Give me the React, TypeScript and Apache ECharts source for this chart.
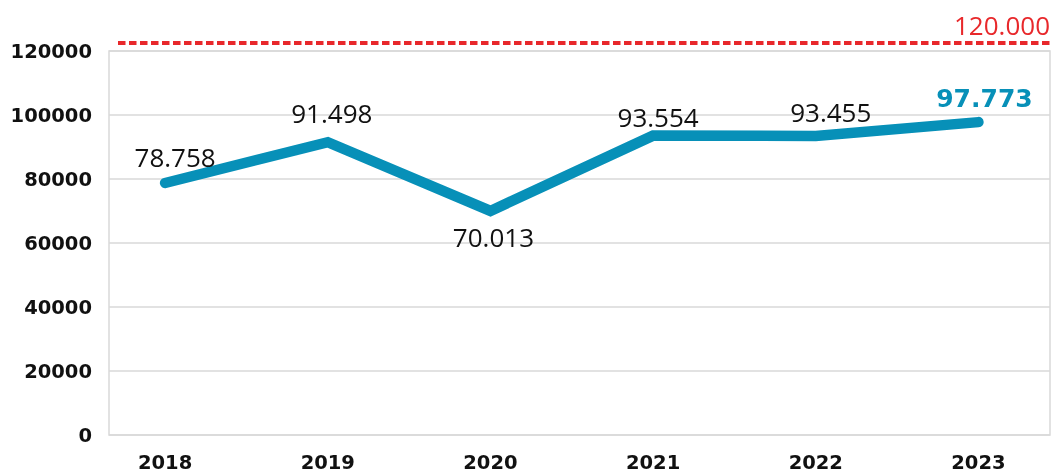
import React, { useEffect, useRef } from "react";
import * as echarts from "echarts";

const years = [2018, 2019, 2020, 2021, 2022, 2023];
const values = [78758, 91498, 70013, 93554, 93455, 97773];
const valueLabels = ["78.758", "91.498", "70.013", "93.554", "93.455", "97.773"];
const yTicks = [0, 20000, 40000, 60000, 80000, 100000, 120000];
const targetValue = 120000;
const targetLabel = "120.000";
const xMin = 2017.655;
const xMax = 2023.44;

const labelOffsets: [number, number][] = [
  [10, -26],
  [4, -29],
  [3, 26],
  [5, -19],
  [15, -24],
  [6, -24],
];

const BLUE = "#0790b8";
const RED = "#e8282b";

export default function App() {
  const ref = useRef<HTMLDivElement>(null);
  useEffect(() => {
    if (!ref.current) return;
    const chart = echarts.init(ref.current, undefined, { renderer: "svg" });
    const last = values.length - 1;
    chart.setOption({
      animation: false,
      grid: {
        left: 109,
        right: 5,
        top: 51,
        bottom: 38,
        show: true,
        borderColor: "#d9d9d9",
        borderWidth: 1.5,
      },
      xAxis: {
        type: "value",
        min: xMin,
        max: xMax,
        axisLine: { show: false },
        axisTick: { show: false },
        splitLine: { show: false },
        axisLabel: {
          customValues: years,
          formatter: (v: number) => String(Math.round(v)),
          fontFamily: "DejaVu Sans",
          fontWeight: "bold",
          fontSize: 19.5,
          color: "#111",
          margin: 17,
        },
      },
      yAxis: {
        type: "value",
        min: 0,
        max: 120000,
        interval: 20000,
        axisLine: { show: false },
        axisTick: { show: false },
        splitLine: { lineStyle: { color: "#d9d9d9", width: 1.5 } },
        axisLabel: {
          customValues: yTicks,
          formatter: (v: number) => String(v),
          fontFamily: "DejaVu Sans",
          fontWeight: "bold",
          fontSize: 19.5,
          color: "#111",
          margin: 17,
        },
      },
      series: [
        {
          type: "line",
          data: years.map((y, i) => ({
            value: [y, values[i]],
            label: {
              show: true,
              position: "inside",
              offset: labelOffsets[i],
              formatter: valueLabels[i],
              fontFamily: i === last ? "DejaVu Sans" : "Open Sans",
              fontWeight: i === last ? "bold" : "normal",
              fontSize: i === last ? 25 : 26,
              color: i === last ? BLUE : "#111",
            },
          })),
          showSymbol: true,
          symbol: "circle",
          symbolSize: 1,
          itemStyle: { color: "rgba(0,0,0,0)", borderWidth: 0 },
          lineStyle: { color: BLUE, width: 10.5, cap: "round", join: "miter" },
          z: 3,
        },
      ],
    });
    const yPix = chart.convertToPixel({ yAxisIndex: 0 }, targetValue) - 8;
    const xStart = chart.convertToPixel({ xAxisIndex: 0 }, xMin) + 9;
    const xEnd = chart.convertToPixel({ xAxisIndex: 0 }, xMax);
    chart.setOption({
      graphic: [
        {
          type: "line",
          shape: { x1: xStart, y1: yPix, x2: xEnd, y2: yPix },
          style: { stroke: RED, lineWidth: 4, lineDash: [7.5, 3.5] },
        },
        {
          type: "text",
          x: xEnd,
          y: yPix - 5,
          style: {
            text: targetLabel,
            fill: RED,
            font: "26px 'Open Sans'",
            textAlign: "right",
            textVerticalAlign: "bottom",
          },
        },
      ],
    });
    return () => chart.dispose();
  }, []);
  return (
    <div
      ref={ref}
      style={{ position: "fixed", left: 0, top: 0, width: 1055, height: 473 }}
    />
  );
}
